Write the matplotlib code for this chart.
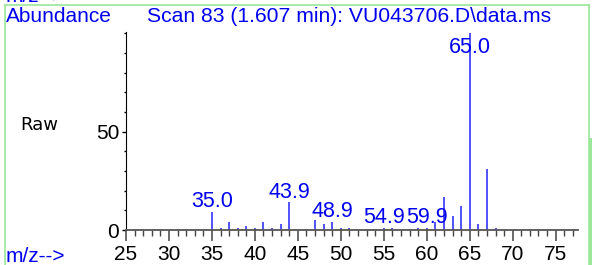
import matplotlib
matplotlib.use('Agg')
import matplotlib.pyplot as plt
from matplotlib.lines import Line2D
from matplotlib.patches import Rectangle

# spectrum data (m/z, abundance)
mz = [35, 36, 37, 38, 39, 40, 41, 42, 43, 44, 47, 48, 49, 50, 51,
      55, 56, 59, 60, 61, 62, 63, 64, 65, 66, 67, 68]
abundance = [9, 1, 4, 1, 2, 1, 4, 1, 3, 14, 5, 3, 4, 1, 1,
             1, 1, 1, 1, 4, 17, 7, 12, 100, 3, 31, 1]
labeled_mz = [35, 44, 49, 55, 60, 65]
peak_labels = ["35.0", "43.9", "48.9", "54.9", "59.9", "65.0"]

title = "Scan 83 (1.607 min): VU043706.D\\data.ms"
xticks = [25, 30, 35, 40, 45, 50, 55, 60, 65, 70, 75]
yticks = [0, 50]

plt.rcParams['font.family'] = ['Liberation Sans', 'DejaVu Sans']
BLUE = '#0000ee'
GREEN = '#9ae89a'

fig = plt.figure(figsize=(5.92, 2.65), dpi=100)
ax = fig.add_axes([126 / 592, 35 / 265, 452 / 592, 198 / 265])

ax.vlines(mz, 0, abundance, colors='#4444ff', linewidth=1.3)

for m, lab in zip(labeled_mz, peak_labels):
    h = abundance[mz.index(m)]
    if h > 85:
        ax.text(m, 90, lab, color=BLUE, fontsize=15.5, ha='center', va='baseline')
    else:
        ax.annotate(lab, (m, h), xytext=(0, 3.5), textcoords='offset points',
                    color=BLUE, fontsize=15.5, ha='center', va='baseline')

ax.set_xlim(25, 77.6)
ax.set_ylim(0, 100.7)
ax.set_xticks(xticks)
ax.set_xticks(range(25, 78), minor=True)
ax.set_yticks(yticks)
ax.set_yticks(range(0, 101, 10), minor=True)
ax.tick_params(axis='both', labelsize=15, colors='black')
ax.tick_params(axis='x', which='major', length=8, width=1.1, color='#444444', pad=3)
ax.tick_params(axis='x', which='minor', length=4.5, width=1, color='#444444')
ax.tick_params(axis='y', which='major', length=3, width=1, pad=2)
ax.tick_params(axis='y', which='minor', length=1.5, width=1)

for s in ['top', 'right']:
    ax.spines[s].set_visible(False)
ax.spines['left'].set_color('black')
ax.spines['bottom'].set_color('#555555')
ax.spines['bottom'].set_linewidth(1.3)

# header / footer texts
fig.text(6 / 592, 1 - 17 / 265, "Abundance", color=BLUE, fontsize=15, va='center', ha='left')
fig.text(147 / 592, 1 - 17 / 265, title, color=BLUE, fontsize=15.2, va='center', ha='left')
fig.text(20 / 592, 1 - 125 / 265, "Raw", family='DejaVu Sans', color='black', fontsize=13,
         va='center', ha='left')
fig.text(6 / 592, 1 - 256 / 265, "m/z-->", color=BLUE, fontsize=15, va='center', ha='left')
fig.text(6 / 592, 1 - 2 / 265, "m/z-->", color=BLUE, fontsize=15, va='baseline', ha='left')

# light green panel frame
fig.add_artist(Line2D([5 / 592, 588.5 / 592], [1 - 5 / 265, 1 - 5 / 265], color=GREEN, lw=1.2))
fig.add_artist(Line2D([5 / 592, 5 / 592], [0, 1 - 5 / 265], color=GREEN, lw=1.2))
fig.add_artist(Line2D([588.5 / 592, 588.5 / 592], [0, 1 - 5 / 265], color=GREEN, lw=1.2))
fig.add_artist(Rectangle((588.5 / 592, 0), 4 / 592, 1 - 138 / 265, transform=fig.transFigure,
                         facecolor=GREEN, edgecolor='none'))

fig.savefig('out.png', dpi=100)
plt.close(fig)
